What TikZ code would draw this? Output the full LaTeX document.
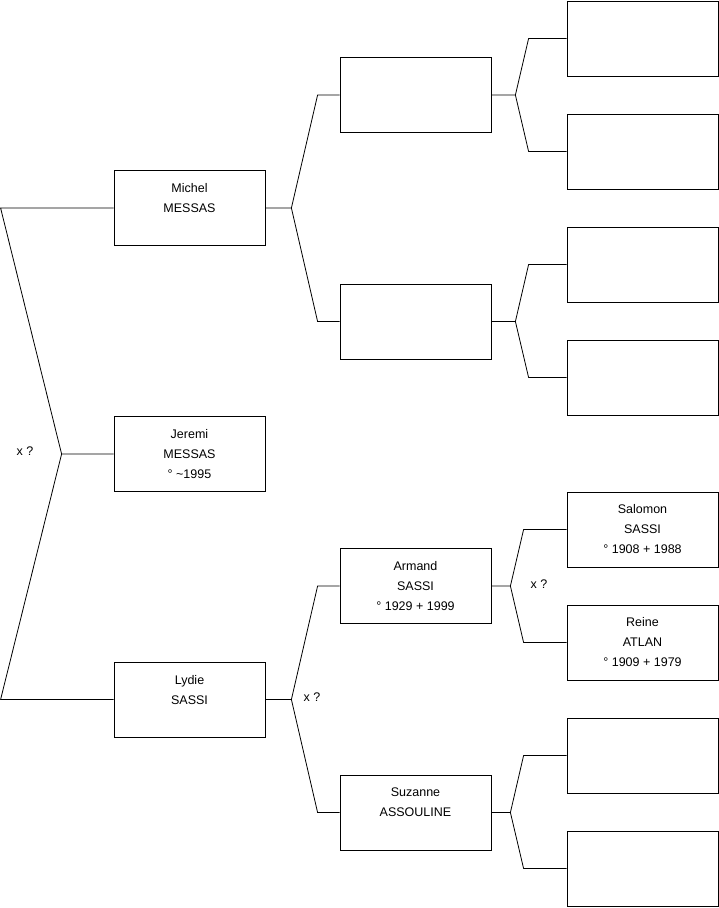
\documentclass[tikz,border=0pt]{standalone}
\usepackage{fontspec}
\setmainfont{Liberation Sans}
\usepackage{tikz}
\usetikzlibrary{calc,positioning}

\begin{document}
\begin{tikzpicture}[
    x=1pt, y=-1pt,
    every node/.style={font=\fontsize{12.5}{20}\selectfont},
    pessoa/.style={draw, line width=0.8pt, minimum width=151pt, minimum height=75pt,
                   inner sep=0pt, align=center},
    ligacao/.style={line width=0.8pt}
]
\useasboundingbox (0,0) rectangle (719,908);

%------------------------------------------------
% Enfant et parents
%------------------------------------------------
\foreach \nome/\y/\txt in {
michel/208/{Michel\\MESSAS\\~},
jeremi/454/{Jeremi\\MESSAS\\° \textasciitilde1995},
lydie/699.5/{Lydie\\SASSI\\~}}
{
    \node[pessoa] (\nome) at (189.5,\y) {\txt};
}

%------------------------------------------------
% Grands-parents
%------------------------------------------------
\foreach \nome/\y/\txt in {
pereMichel/95/{},
mereMichel/321.5/{},
armand/586/{Armand\\SASSI\\° 1929 + 1999},
suzanne/812.5/{Suzanne\\ASSOULINE\\~}}
{
    \node[pessoa] (\nome) at (415.5,\y) {\txt};
}

%------------------------------------------------
% Arriere-grands-parents
%------------------------------------------------
\foreach \nome/\y/\txt in {
b1/38.5/{},
b2/151.5/{},
b3/264.5/{},
b4/377.5/{},
salomon/529.5/{Salomon\\SASSI\\° 1908 + 1988},
reine/642.5/{Reine\\ATLAN\\° 1909 + 1979},
b7/755.5/{},
b8/868.5/{}}
{
    \node[pessoa] (\nome) at (642.5,\y) {\txt};
}

%------------------------------------------------
% Liens
%------------------------------------------------

% jeremi -> parents
\draw[ligacao] (jeremi.west) -- ++(-52,0) coordinate (v-jeremi)
    -- ($(michel.west)+(-113,0)$) -- (michel.west);
\draw[ligacao] (v-jeremi) -- ($(lydie.west)+(-113,0)$) -- (lydie.west);

% parents -> grands-parents -> arriere-grands-parents
\foreach \pai/\fa/\fb/\dv/\dx in {
michel/pereMichel/mereMichel/26/22,
lydie/armand/suzanne/26/22,
pereMichel/b1/b2/24/38,
mereMichel/b3/b4/24/38,
armand/salomon/reine/19/43,
suzanne/b7/b8/19/43}
{
    \draw[ligacao] (\pai.east) -- ++(\dv,0) coordinate (v-\pai)
        -- ($(\fa.west)+(-\dx,0)$) -- (\fa.west);
    \draw[ligacao] (v-\pai) -- ($(\fb.west)+(-\dx,0)$) -- (\fb.west);
}

% mariages
\node (xJeremi) at (25,451) {x ?};
\node (xLydie) at (312,697) {x ?};
\node (xArmand) at (539,584) {x ?};

\end{tikzpicture}
\end{document}
